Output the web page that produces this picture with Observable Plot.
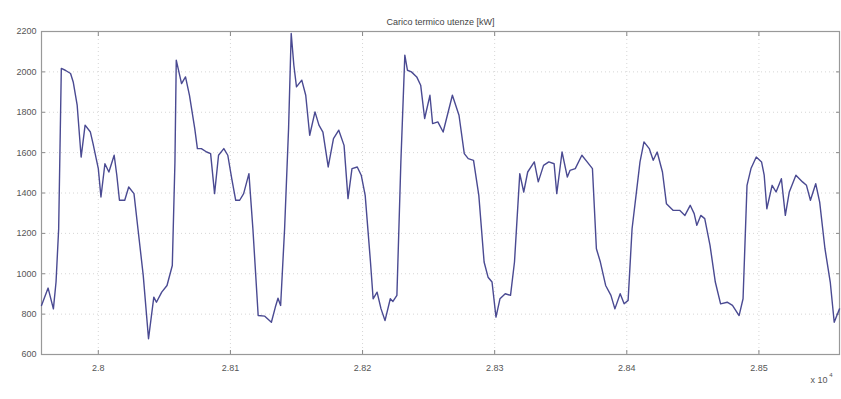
<!DOCTYPE html>
<html>
<head>
<meta charset="utf-8">
<script src="https://cdn.jsdelivr.net/npm/d3@7"></script>
<script src="https://cdn.jsdelivr.net/npm/@observablehq/plot@0.6"></script>
<style>
  html, body { margin: 0; padding: 0; background: #fff; }
  #chart svg { display: block; }
</style>
</head>
<body>
<div id="chart"></div>
<script>
const title = "Carico termico utenze [kW]";
const xMultiplier = "x 10";
const xExponent = "4";
const xDomain = [27957, 28561];
const yDomain = [600, 2200];
const xTicks = [28000, 28100, 28200, 28300, 28400, 28500];
const yTicks = [600, 800, 1000, 1200, 1400, 1600, 1800, 2000, 2200];

const tValues = [
  27957, 27962, 27966, 27968, 27970, 27972, 27975, 27979, 27981, 27984,
  27987, 27990, 27994, 27996, 28000, 28002, 28005, 28008, 28012, 28014,
  28016, 28020, 28023, 28027, 28030, 28034, 28038, 28042, 28044, 28048,
  28052, 28056, 28058, 28059, 28063, 28066, 28069, 28073, 28075, 28078,
  28082, 28085, 28088, 28091, 28095, 28098, 28101, 28104, 28107, 28110,
  28114, 28117, 28121, 28126, 28131, 28134, 28136, 28138, 28141, 28144,
  28146, 28148, 28150, 28154, 28157, 28160, 28164, 28167, 28170, 28174,
  28178, 28182, 28186, 28189, 28192, 28196, 28199, 28202, 28206, 28208,
  28211, 28214, 28217, 28221, 28223, 28226, 28229, 28232, 28234, 28237,
  28241, 28244, 28247, 28251, 28253, 28257, 28261, 28268, 28273, 28277,
  28280, 28284, 28288, 28292, 28295, 28298, 28301, 28304, 28308, 28312,
  28315, 28319, 28322, 28325, 28330, 28333, 28337, 28341, 28345, 28347,
  28351, 28355, 28357, 28361, 28366, 28370, 28374, 28377, 28380, 28384,
  28388, 28391, 28395, 28398, 28401, 28404, 28407, 28410, 28413, 28417,
  28420, 28423, 28427, 28430, 28435, 28440, 28444, 28448, 28451, 28453,
  28456, 28459, 28463, 28467, 28471, 28476, 28480, 28485, 28488, 28491,
  28494, 28498, 28502, 28504, 28506, 28510, 28513, 28517, 28520, 28523,
  28528, 28533, 28536, 28539, 28543, 28546, 28550, 28554, 28557, 28559,
  28561
];
const loadValues = [
  843, 929, 826, 959, 1223, 2017, 2008, 1992, 1950, 1835,
  1578, 1736, 1702, 1645, 1521, 1380, 1545, 1504, 1587, 1488,
  1364, 1364, 1430, 1397, 1223, 992, 678, 884, 859, 909,
  942, 1041, 1554, 2058, 1942, 1975, 1884, 1719, 1620, 1620,
  1603, 1595, 1397, 1587, 1620, 1587, 1471, 1364, 1364, 1397,
  1496, 1223, 793, 790, 760, 835, 879, 843, 1223, 1719,
  2190, 2033, 1926, 1959, 1884, 1686, 1802, 1736, 1702, 1529,
  1669, 1711, 1636, 1372, 1521, 1529, 1488, 1388, 1058, 876,
  909, 826, 768, 876, 863, 893, 1554, 2083, 2008, 2000,
  1975, 1934, 1769, 1884, 1744, 1752, 1702, 1884, 1785, 1595,
  1570, 1562, 1388, 1058, 983, 959, 785, 876, 901, 893,
  1058, 1496, 1405, 1504, 1554, 1455, 1537, 1554, 1545, 1397,
  1603, 1479, 1512, 1521, 1587, 1554, 1521, 1124, 1058, 942,
  893, 826, 901, 851, 868, 1223, 1388, 1554, 1653, 1620,
  1562, 1603, 1504, 1347, 1314, 1314, 1289, 1339, 1298, 1240,
  1289, 1273, 1141, 959, 851, 859, 843, 793, 876, 1438,
  1521, 1578, 1554, 1488, 1322, 1438, 1405, 1471, 1289, 1405,
  1488, 1455, 1438, 1364, 1446, 1355, 1124, 959, 760, 793,
  826
];

const data = tValues.map((t, i) => ({t, v: loadValues[i]}));
const font = "Liberation Sans, Arial, sans-serif";
const textColor = "#555";

const chart = Plot.plot({
  width: 841,
  height: 399,
  marginLeft: 41,
  marginRight: 2,
  marginTop: 31,
  marginBottom: 45,
  style: {fontFamily: font, fontSize: "9px", color: textColor, background: "#fff"},
  x: {domain: xDomain, label: null},
  y: {domain: yDomain, label: null},
  marks: [
    Plot.gridX(xTicks, {stroke: "#d6d6d6", strokeOpacity: 1, strokeDasharray: "1,3"}),
    Plot.gridY(yTicks, {stroke: "#d6d6d6", strokeOpacity: 1, strokeDasharray: "1,3"}),
    Plot.axisY({ticks: yTicks, anchor: "left", tickSize: -4, tickPadding: 9, stroke: "#888", fill: textColor,
      tickFormat: d => String(d)}),
    Plot.axisY({ticks: yTicks, anchor: "right", tickSize: -4, tickFormat: () => "", stroke: "#888"}),
    Plot.axisX({ticks: xTicks, anchor: "bottom", tickSize: -4, tickPadding: 14, stroke: "#888", fill: textColor,
      tickFormat: d => String(+(d / 1e4).toFixed(2))}),
    Plot.axisX({ticks: xTicks, anchor: "top", tickSize: -4, tickFormat: () => "", stroke: "#888"}),
    Plot.frame({stroke: "#999", strokeWidth: 1.2}),
    Plot.line(data, {x: "t", y: "v", stroke: "#4a4a92", strokeWidth: 1.4, curve: "linear"}),
    Plot.text([title], {frameAnchor: "top", dy: -13, text: d => d, fill: "#444", fontSize: 9}),
    Plot.text([xMultiplier], {frameAnchor: "bottom-right", dx: -12, dy: 28, textAnchor: "end", text: d => d, fill: textColor, fontSize: 9}),
    Plot.text([xExponent], {frameAnchor: "bottom-right", dx: -7, dy: 22, textAnchor: "end", text: d => d, fill: textColor, fontSize: 6})
  ]
});
document.getElementById("chart").appendChild(chart);
</script>
</body>
</html>
